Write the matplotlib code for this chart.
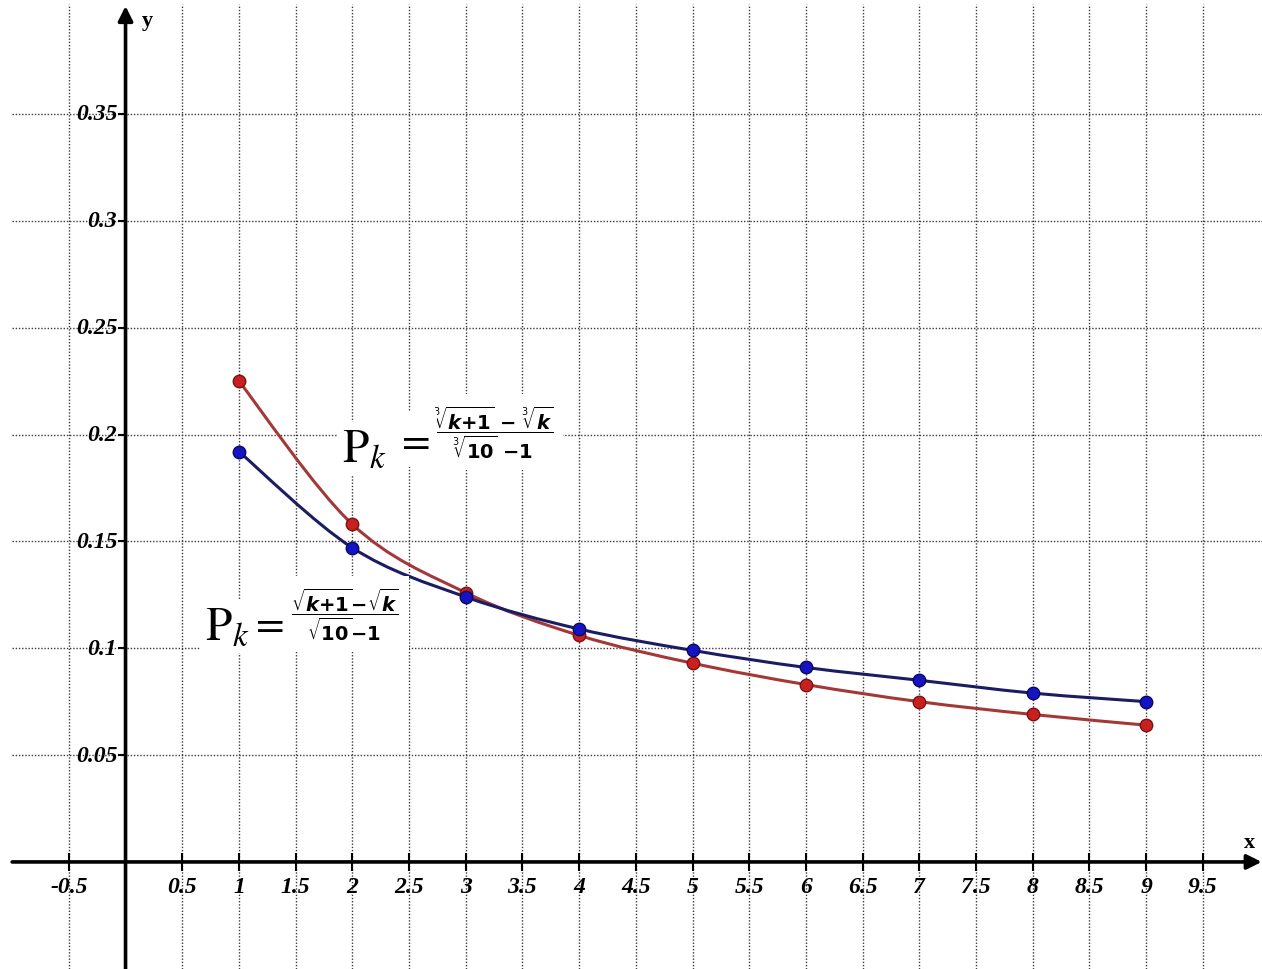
import numpy as np
import matplotlib
matplotlib.use("Agg")
import matplotlib.pyplot as plt
from matplotlib.path import Path
from matplotlib.patches import PathPatch

# ---- data ----
k_values = [1, 2, 3, 4, 5, 6, 7, 8, 9]
p_sqrt = [0.192, 0.147, 0.124, 0.109, 0.099, 0.091, 0.085, 0.079, 0.075]   # blue
p_cbrt = [0.225, 0.158, 0.126, 0.106, 0.093, 0.083, 0.075, 0.069, 0.064]   # red
x_ticks = [-0.5, 0.5, 1, 1.5, 2, 2.5, 3, 3.5, 4, 4.5, 5, 5.5, 6, 6.5, 7, 7.5, 8, 8.5, 9, 9.5]
x_tick_labels = ['-0.5', '0.5', '1', '1.5', '2', '2.5', '3', '3.5', '4', '4.5', '5', '5.5',
                 '6', '6.5', '7', '7.5', '8', '8.5', '9', '9.5']
y_ticks = [0.05, 0.1, 0.15, 0.2, 0.25, 0.3, 0.35]
y_tick_labels = ['0.05', '0.1', '0.15', '0.2', '0.25', '0.3', '0.35']

XMIN, XMAX = -1.107, 10.022
YMIN, YMAX = -0.0501, 0.4038

fig = plt.figure(figsize=(12.62, 9.70), dpi=100)
ax = fig.add_axes([0, 0, 1, 1])
ax.set_xlim(XMIN, XMAX)
ax.set_ylim(YMIN, YMAX)
ax.axis('off')

grid_kw = dict(colors='#3a3a3a', linestyles=(0, (1, 1.3)), linewidth=1.0, zorder=1)
ax.hlines(y_ticks, -1.0, XMAX, **grid_kw)
ax.vlines(x_ticks, YMIN, 0.4015, **grid_kw)

# axes with arrows
ax.annotate('', xy=(XMAX - 0.003, 0), xytext=(-1.0, 0),
            arrowprops=dict(arrowstyle='-|>', lw=2.6, color='black',
                            mutation_scale=22, shrinkA=0, shrinkB=0), zorder=3)
ax.annotate('', xy=(0, 0.4005), xytext=(0, YMIN),
            arrowprops=dict(arrowstyle='-|>', lw=2.6, color='black',
                            mutation_scale=22, shrinkA=0, shrinkB=0), zorder=3)

# tick marks
ax.plot(x_ticks, [0] * len(x_ticks), linestyle='none', marker='|', ms=13, mew=1.5,
        color='black', zorder=3)
ax.plot([0] * len(y_ticks), y_ticks, linestyle='none', marker=0, ms=6, mew=1.5,
        color='black', zorder=3)

tick_font = dict(family='Liberation Serif', weight='bold', style='italic', size=17)
for xv, lab in zip(x_ticks, x_tick_labels):
    ax.annotate(lab, (xv, 0), xytext=(0, -18), textcoords='offset points',
                ha='center', va='center', **tick_font)
for yv, lab in zip(y_ticks, y_tick_labels):
    ax.annotate(lab, (0, yv), xytext=(-6, 0), textcoords='offset points',
                ha='right', va='center', **tick_font)

ax.annotate('y', (0, 0.4005), xytext=(12, -10), textcoords='offset points',
            ha='left', va='center', family='Liberation Serif', weight='bold', size=16)
ax.annotate('x', (XMAX, 0), xytext=(-9, 14), textcoords='offset points',
            ha='center', va='center', family='Liberation Serif', weight='bold', size=16)


def smooth_path(xs, ys):
    pts = np.column_stack([xs, ys]).astype(float)
    n = len(pts)
    verts = [pts[0]]
    codes = [Path.MOVETO]
    for i in range(n - 1):
        p0 = pts[i - 1] if i > 0 else pts[i]
        p1 = pts[i]
        p2 = pts[i + 1]
        p3 = pts[i + 2] if i + 2 < n else pts[i + 1]
        c1 = p1 + (p2 - p0) / 6.0
        c2 = p2 - (p3 - p1) / 6.0
        verts += [c1, c2, p2]
        codes += [Path.CURVE4] * 3
    return Path(verts, codes)


ax.add_patch(PathPatch(smooth_path(k_values, p_cbrt), facecolor='none',
                       edgecolor='#a33838', lw=2.2, zorder=4))
ax.add_patch(PathPatch(smooth_path(k_values, p_sqrt), facecolor='none',
                       edgecolor='#1c1c62', lw=2.2, zorder=5))
ax.plot(k_values, p_cbrt, linestyle='none', marker='o', ms=9, mfc='#c8201e',
        mec='#7a1212', mew=1.0, zorder=6)
ax.plot(k_values, p_sqrt, linestyle='none', marker='o', ms=9, mfc='#1414c4',
        mec='#0a0a5a', mew=1.0, zorder=7)

# formulas
fbox = dict(facecolor='white', edgecolor='none', pad=7)
pbox = dict(facecolor='white', edgecolor='none', pad=3)
ebox = dict(facecolor='white', edgecolor='none', pad=5)
# upper formula (cube roots)
ax.text(3.24, 0.2012,
        r'$\dfrac{\sqrt[3]{\mathbfit{k}\mathbf{+1}}\ \mathbf{-}\ \sqrt[3]{\mathbfit{k}}}'
        r'{\sqrt[3]{\mathbf{10}}\ \mathbf{-1}}$',
        math_fontfamily='dejavusans', fontsize=14, ha='center', va='center',
        bbox=fbox, zorder=8)
ax.text(2.53, 0.1979, r'$=$', math_fontfamily='stix', fontsize=30,
        ha='center', va='center', bbox=ebox, zorder=8)
ax.text(1.91, 0.1876, r'$\mathrm{P}_{k}$', math_fontfamily='stix', fontsize=34,
        ha='left', va='baseline', bbox=pbox, zorder=9)
# lower formula (square roots)
ax.text(1.936, 0.1160,
        r'$\dfrac{\sqrt{\mathbfit{k}\mathbf{+1}}\mathbf{-}\sqrt{\mathbfit{k}}}'
        r'{\sqrt{\mathbf{10}}\mathbf{-1}}$',
        math_fontfamily='dejavusans', fontsize=14, ha='center', va='center',
        bbox=fbox, zorder=8)
ax.text(1.24, 0.1123, r'$=$', math_fontfamily='stix', fontsize=30,
        ha='center', va='center', bbox=ebox, zorder=8)
ax.text(0.70, 0.1043, r'$\mathrm{P}_{k}$', math_fontfamily='stix', fontsize=34,
        ha='left', va='baseline', bbox=pbox, zorder=9)

fig.savefig('out.png', dpi=100, facecolor='white')
